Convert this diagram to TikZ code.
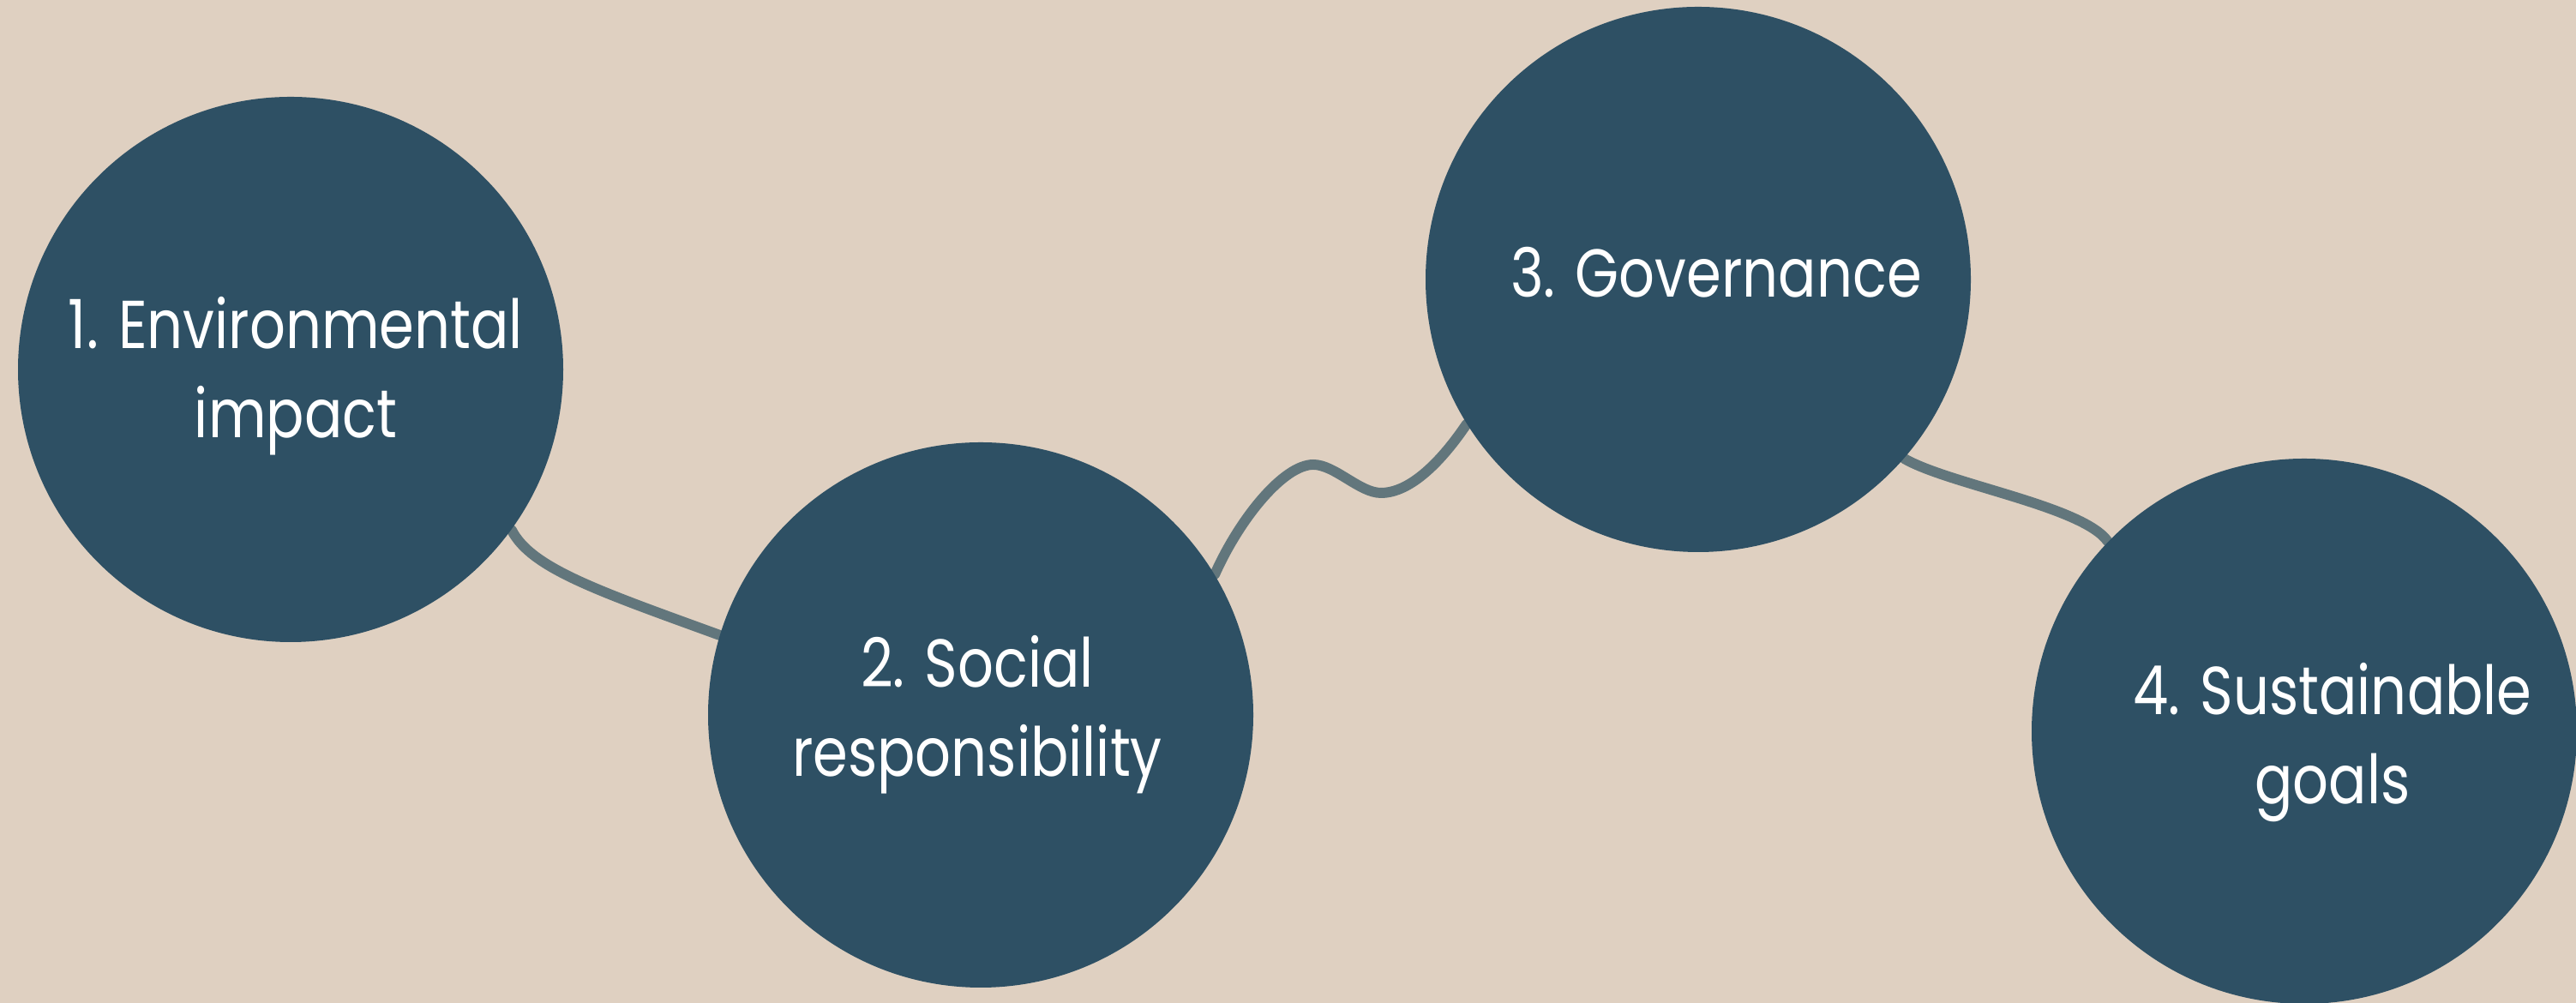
\documentclass[tikz,border=0pt]{standalone}
\usepackage{fontspec}
\setmainfont{Poppins}[FakeStretch=0.83]
\usetikzlibrary{backgrounds}
\definecolor{sand}{RGB}{223,208,193}
\definecolor{petrol}{RGB}{46,80,100}
\definecolor{slate}{RGB}{98,118,124}
\begin{document}
\begin{tikzpicture}[stepdisk/.style={circle,fill=petrol,minimum size=6.36cm,inner sep=0pt},
  steptext/.style={text=white,align=center,inner sep=0pt,font=\fontsize{22.5}{29.5}\selectfont},
  link/.style={slate,line width=3.4pt,line cap=round}]
  \path [use as bounding box,clip] (0,0) rectangle (30.05,11.70);
  \node [stepdisk] (n1) at (3.39,7.39) {};
  \node [stepdisk] (n2) at (11.44,3.36) {};
  \node [stepdisk] (n3) at (19.81,8.44) {};
  \node [stepdisk] (n4) at (26.88,3.17) {};
  \node [steptext] (t1) at (3.45,7.31) {1. Environmental\\impact};
  \node [steptext] (t2) at (11.40,3.36) {2. Social\\responsibility};
  \node [steptext] (t3) at (20.02,8.52) {3. Governance};
  \node [steptext] (t4) at (27.21,3.04) {4. Sustainable\\goals};
  \coordinate (crest) at (15.32,6.28);
  \coordinate (dip) at (16.11,5.95);
  \begin{scope}[on background layer]
    \fill [sand] (0,0) rectangle (30.05,11.70);
    \draw [link] (n1.-36) .. controls +(-63:0.5) and +(160:1.5) .. (n2.163);
    \draw [link] (n2.31) .. controls +(66:0.7) and +(180:0.35) .. (crest)
      .. controls +(0:0.25) and +(180:0.25) .. (dip)
      .. controls +(0:0.35) and +(236:0.5) .. (n3.212);
    \draw [link] (n3.-41) .. controls +(-30:0.6) and +(125:0.5) .. (n4.136);
  \end{scope}
\end{tikzpicture}
\end{document}
